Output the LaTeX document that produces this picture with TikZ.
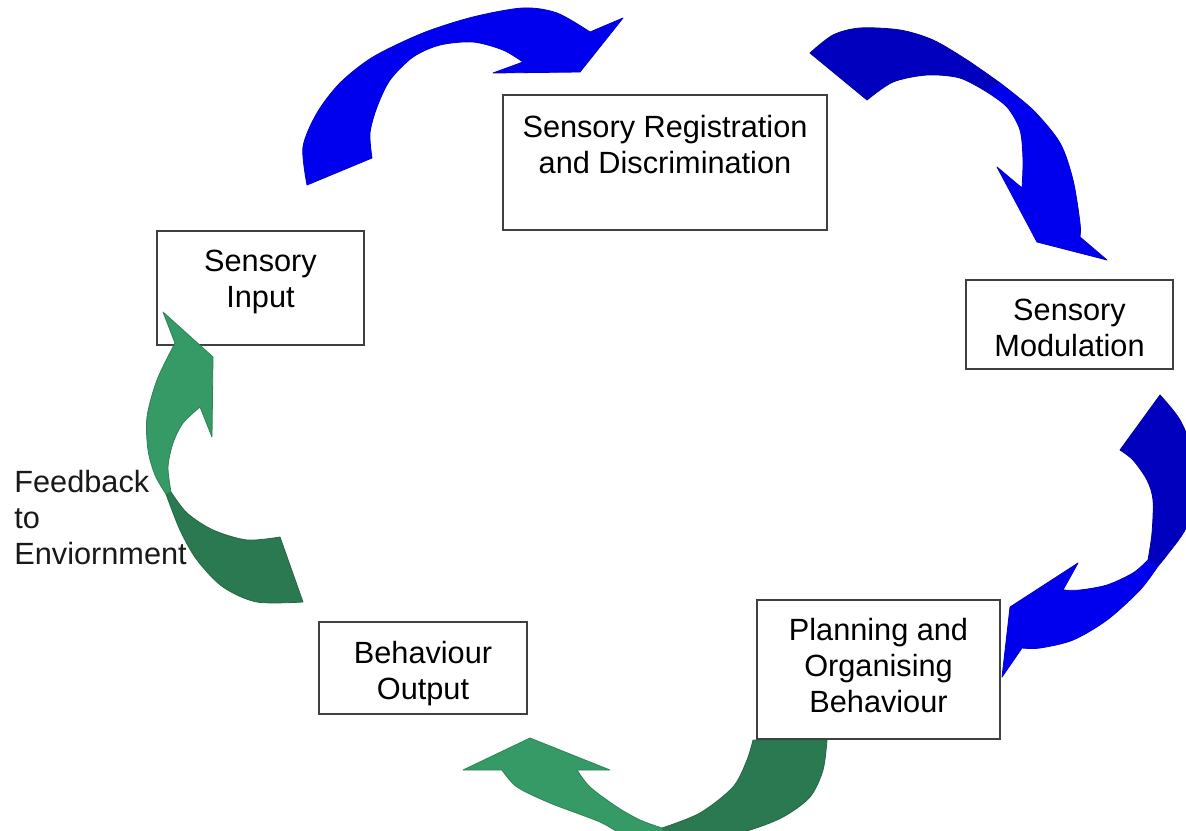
\documentclass[tikz,border=0pt]{standalone}
\usepackage{fontspec}
\setmainfont{Liberation Sans}
\definecolor{bblue}{HTML}{0000EE}
\definecolor{dblue}{HTML}{0000BE}
\definecolor{lgreen}{HTML}{359A65}
\definecolor{dgreen}{HTML}{2B7950}

\begin{document}
\begin{tikzpicture}[x=0.5pt,y=-0.5pt,
  box/.style={rectangle,draw=black!75,line width=1pt,fill=white,align=center,inner sep=0pt,font=\fontsize{15.35}{18}\selectfont},
  blk/.style={fill=#1,draw=#1!85!black,line width=0.4pt,line join=round}]
\useasboundingbox (0,0) rectangle (1186,830);

\node [box,minimum width=162pt,minimum height=67.5pt] (reg) at (665,162.5) {Sensory Registration\\and Discrimination\\\mbox{}};
\node [box,minimum width=103.5pt,minimum height=57pt,text depth=9.7pt] (inp) at (260.5,288) {Sensory\\Input};
\node [box,minimum width=103.5pt,minimum height=44.5pt,text height=32.2pt] (mod) at (1069.5,324.5) {Sensory\\Modulation};
\node [box,minimum width=121.5pt,minimum height=69.5pt,text depth=4.5pt] (plan) at (878.5,669.5) {Planning and\\Organising\\Behaviour};
\node [box,minimum width=104pt,minimum height=46pt,text height=32.2pt,text depth=0.3pt] (out) at (423,668) {Behaviour\\Output};

\begin{scope}
\clip (0,0) rectangle (1186,830);
\path[blk=bblue] plot[smooth] coordinates {(307,185) (303,147) (317,113) (340,83) (373,57) (423,33) (473,17) (523,8) (557,13) (590,32)}
  -- (623,18) -- (580,72) -- (493,73)
  -- plot[smooth] coordinates {(523,62) (503,50) (473,42) (440,45) (413,57) (390,80) (377,107) (370,133) (372,158)} -- cycle;

\path[blk=dblue] plot[smooth] coordinates {(810,53) (833,35) (860,28) (900,30) (933,40) (967,60) (1000,83)}
  -- plot[smooth] coordinates {(987,92) (960,78) (927,75) (893,82) (867,100)} -- cycle;
\path[blk=bblue] plot[smooth] coordinates {(1000,83) (1033,110) (1060,143) (1073,180) (1080,223) (1080,237)}
  -- (1107,260) -- (1037,242) -- (997,167)
  -- plot[smooth] coordinates {(1022,188) (1023,160) (1020,130) (1007,107) (987,92)} -- cycle;

\path[blk=dblue] plot[smooth] coordinates {(1160,395) (1180,420) (1194,455) (1197,490) (1186,528) (1167,555) (1158,566)}
  -- plot[smooth] coordinates {(1148,560) (1152,533) (1153,500) (1147,480) (1133,460) (1120,450)} -- cycle;
\path[blk=bblue] plot[smooth] coordinates {(1158,566) (1140,590) (1107,620) (1073,640) (1040,648) (1022,648)}
  -- (1002,677) -- (1010,607) -- (1078,563)
  -- plot[smooth] coordinates {(1063,590) (1080,590) (1107,585) (1133,573) (1148,560)} -- cycle;

\path[blk=dgreen] plot[smooth] coordinates {(827,740) (823,770) (810,797) (783,817) (750,830) (715,838) (668,842)}
  -- plot[smooth] coordinates {(662,828) (700,813) (733,787) (747,760) (753,740)} -- cycle;
\path[blk=lgreen] plot[smooth] coordinates {(668,842) (630,838) (600,822) (550,803) (517,787) (502,770)}
  -- (463,770) -- (530,738) -- (610,770)
  -- plot[smooth] coordinates {(577,770) (590,787) (617,807) (640,820) (662,828)} -- cycle;

\path[blk=dgreen] plot[smooth] coordinates {(166,494) (180,530) (197,560) (223,587) (257,602) (303,602)}
  -- plot[smooth] coordinates {(280,537) (247,540) (213,530) (187,513) (171,492)} -- cycle;
\path[blk=lgreen] plot[smooth] coordinates {(166,494) (155,475) (148,450) (147,417) (157,380) (175,343)}
  -- (163,312) -- (213,357) -- (212,437)
  -- plot[smooth] coordinates {(200,407) (183,423) (173,443) (168,467) (171,492)} -- cycle;
\end{scope}

\node [font=\fontsize{15.35}{18}\selectfont,align=left,inner sep=0pt,anchor=north west,text=black!90] (fb) at (14,470) {Feedback\\to\\Enviornment};
\end{tikzpicture}
\end{document}
